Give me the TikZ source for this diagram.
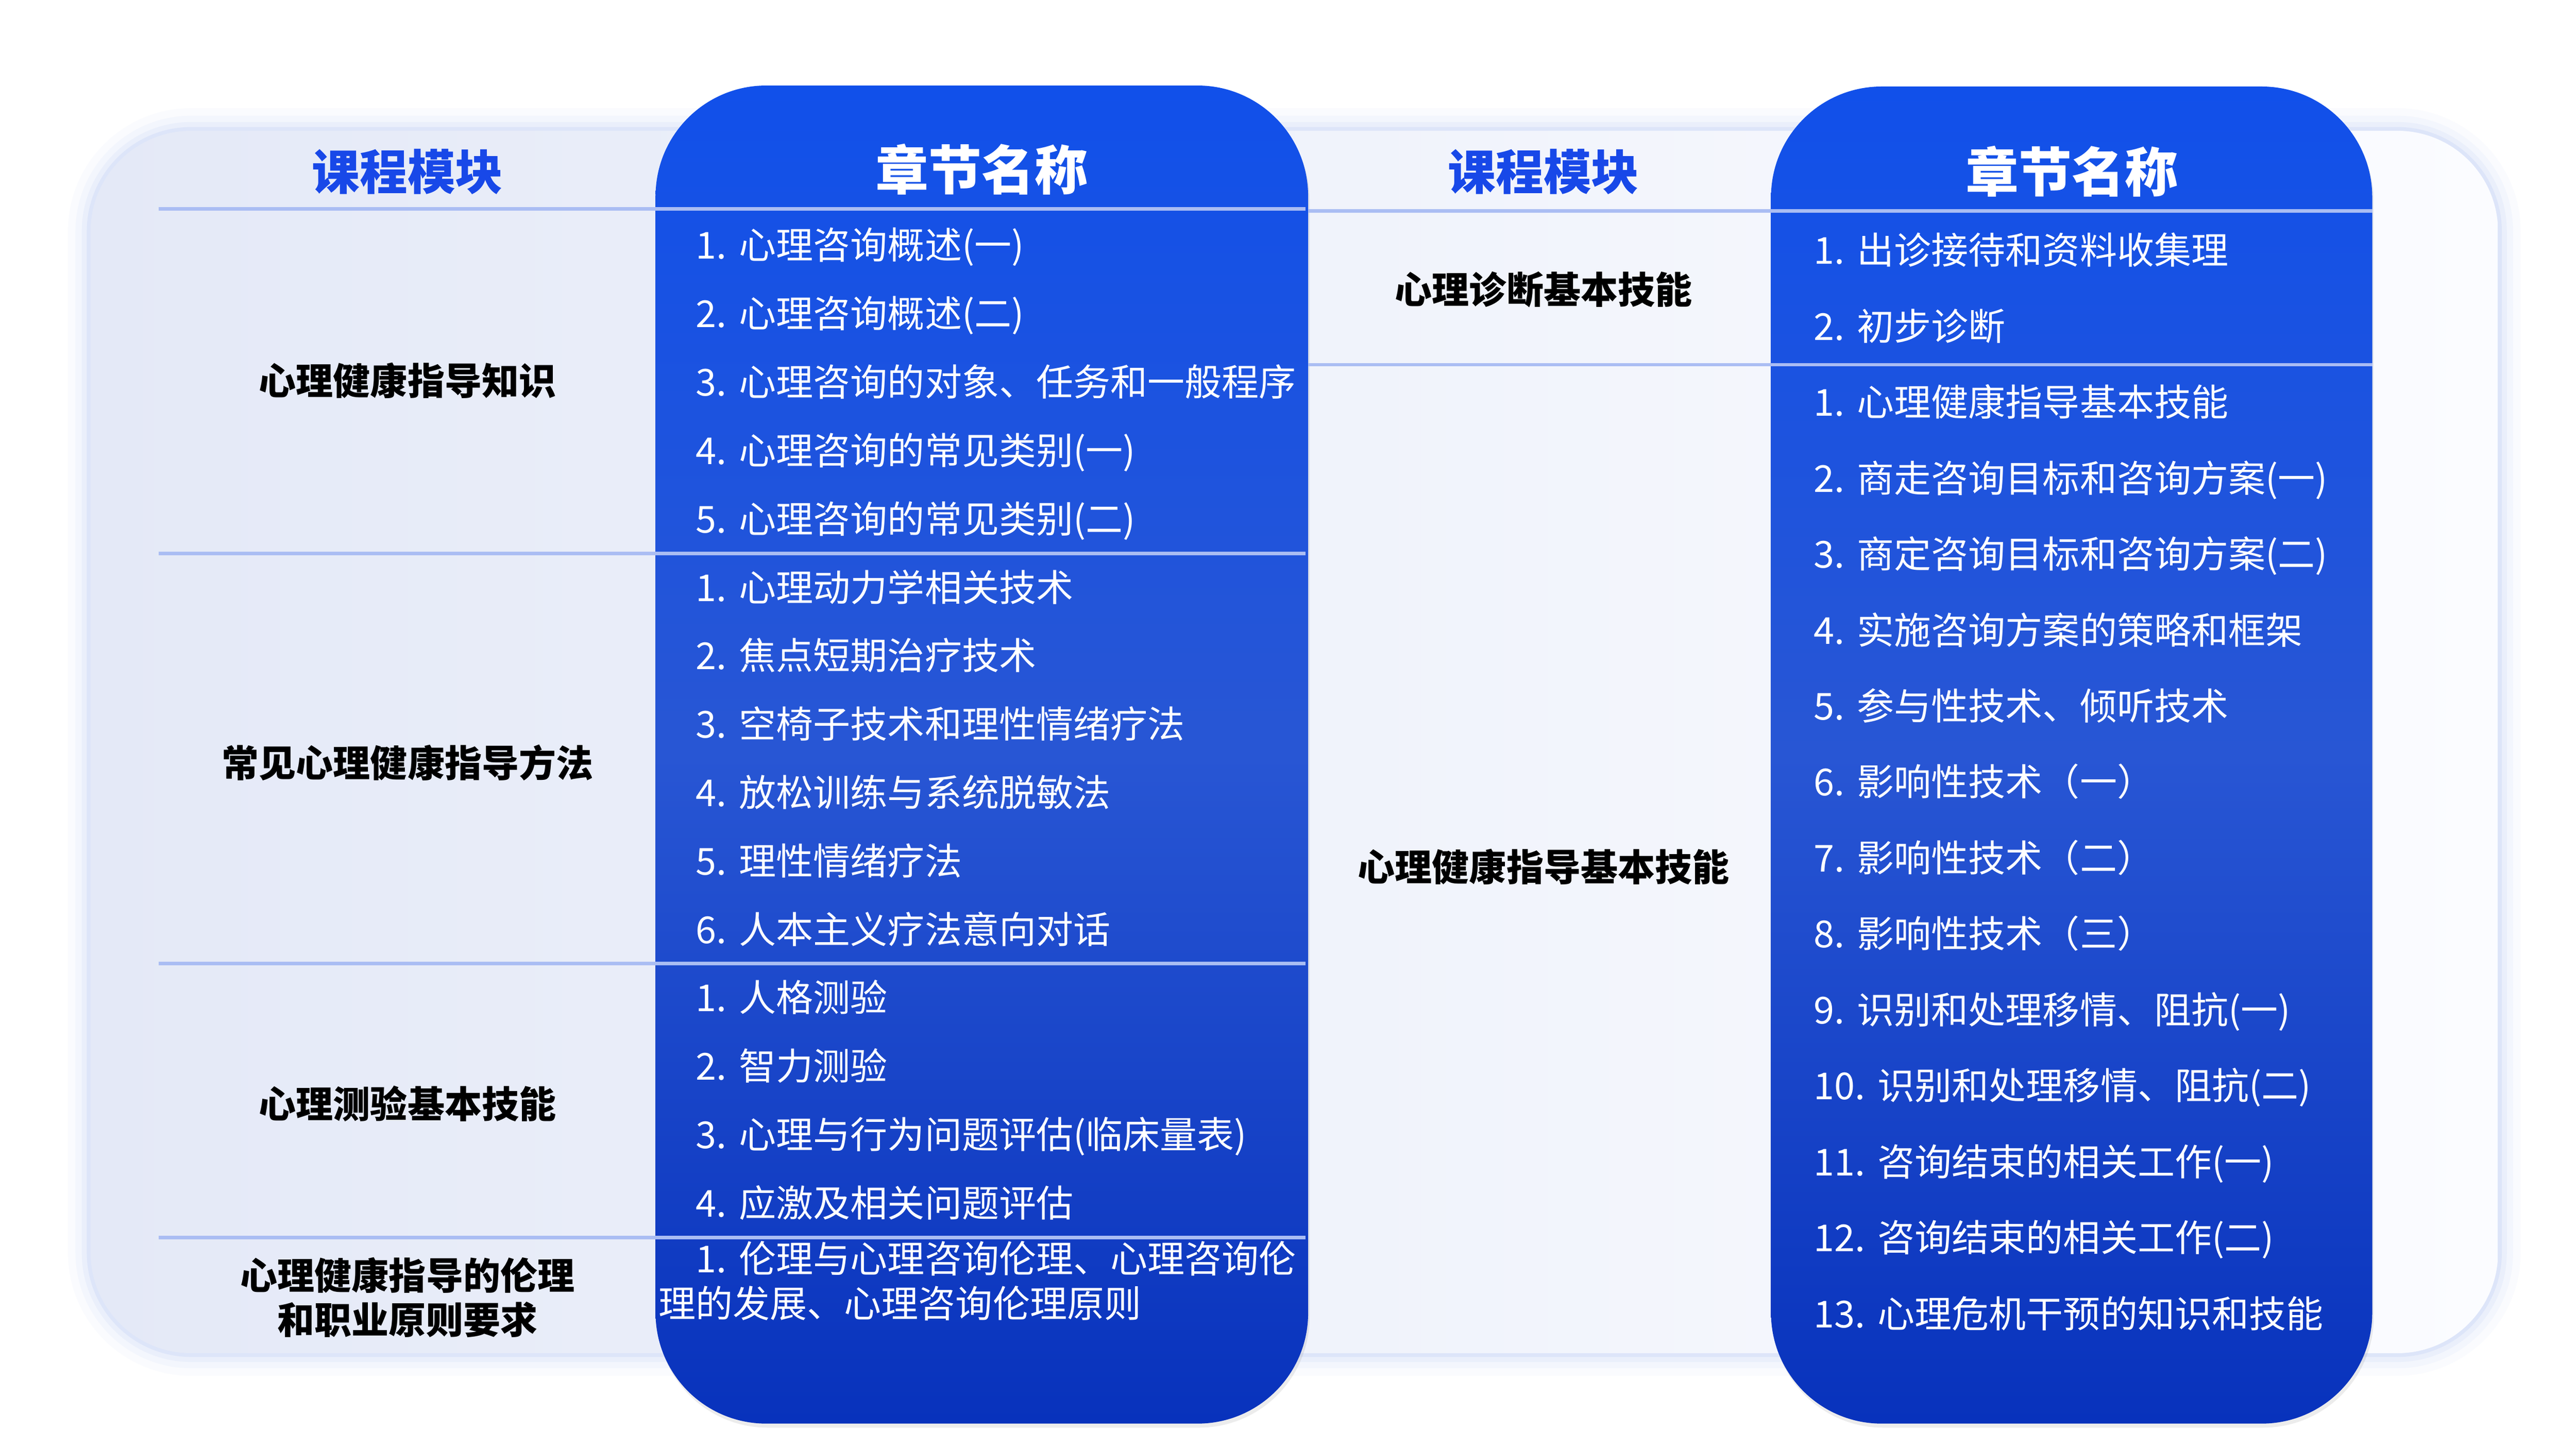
\documentclass[tikz,border=0pt]{standalone}
\usepackage{fontspec}
\setmainfont{Noto Sans CJK SC}
\usepackage{xcolor}
\usepackage{tikz}
\usetikzlibrary{positioning,shadows}

\definecolor{colTop}{HTML}{1150EA}
\definecolor{colMid}{HTML}{2856D4}
\definecolor{colBot}{HTML}{0832BC}
\definecolor{headblue}{HTML}{1848E8}
\definecolor{sepblue}{HTML}{AABDF3}
\definecolor{panelL}{HTML}{E4E9F7}
\definecolor{panelR}{HTML}{FBFCFF}
\definecolor{glowblue}{HTML}{C6D3F6}

\begin{document}
\begin{tikzpicture}[
  item/.style={inner sep=0pt, outer sep=0pt, text=white, align=left,
    font=\fontsize{21}{25}\selectfont, text height=0.66cm, text depth=0.1cm},
  litem/.style={item, text width=12.8cm, minimum height=1.36cm},
  ritem/.style={item, text width=11cm, minimum height=1.51cm},
  modname/.style={inner sep=0pt, text=black, align=center,
    font=\bfseries\fontsize{21}{25}\selectfont},
  headmod/.style={inner sep=0pt, text=headblue, font=\bfseries\fontsize{27}{30}\selectfont},
  headchap/.style={inner sep=0pt, text=white, font=\bfseries\fontsize{30}{32}\selectfont},
  sep/.style={draw=sepblue, line width=0.07cm},
  column/.style={rounded corners=2.2cm, top color=colTop, bottom color=colBot, middle color=colMid,
    drop shadow={opacity=0.15, shadow xshift=0.03cm, shadow yshift=-0.08cm}}
]
\useasboundingbox (0,0) rectangle (51.2,-28.8);
\fill[white] (0,0) rectangle (51.2,-28.8);

% panel
\foreach \w/\o in {0.9/0.08, 0.6/0.12, 0.35/0.2, 0.15/0.35}
  \draw[glowblue, line width=\w cm, opacity=\o, rounded corners=2cm] (1.8,-2.6) rectangle (49.65,-26.9);
\shade[left color=panelL, right color=panelR, rounded corners=2cm] (1.8,-2.6) rectangle (49.65,-26.9);

% columns
\path[column] (13.03,-1.7) rectangle (26.0,-28.3);
\path[column] (35.2,-1.72) rectangle (47.15,-28.3);

% lines
\draw[sep] (3.15,-4.15) -- (25.95,-4.15);
\draw[sep] (26.0,-4.19) -- (47.15,-4.19);
\draw[sep] (3.15,-11.0) -- (25.95,-11.0);
\draw[sep] (3.15,-19.15) -- (25.95,-19.15);
\draw[sep] (3.15,-24.6) -- (25.95,-24.6);
\draw[sep] (26.0,-7.25) -- (47.15,-7.25);

% headers
\node[headmod] (hmodL) at (8.1,-3.41) {课程模块};
\node[headchap] (hchapL) at (19.515,-3.37) {章节名称};
\node[headmod] (hmodR) at (30.68,-3.41) {课程模块};
\node[headchap] (hchapR) at (41.18,-3.41) {章节名称};

% modules
\node[modname] (m1) at (8.1,-7.57) {心理健康指导知识};
\node[modname] (m2) at (8.1,-15.16) {常见心理健康指导方法};
\node[modname] (m3) at (8.1,-21.94) {心理测验基本技能};
\node[modname, font=\bfseries\fontsize{21}{25}\selectfont] (m4) at (8.1,-25.79) {心理健康指导的伦理\\和职业原则要求};
\node[modname] (n1) at (30.68,-5.76) {心理诊断基本技能};
\node[modname] (n2) at (30.68,-17.23) {心理健康指导基本技能};

% chapters, left
\node[litem, anchor=west] (a1) at (13.83,-4.87) {1.~心理咨询概述(一)};
\node[litem, below=0pt of a1] (a2) {2.~心理咨询概述(二)};
\node[litem, below=0pt of a2] (a3) {3.~心理咨询的对象、任务和一般程序};
\node[litem, below=0pt of a3] (a4) {4.~心理咨询的常见类别(一)};
\node[litem, below=0pt of a4] (a5) {5.~心理咨询的常见类别(二)};
\node[litem, below=0pt of a5] (b1) {1.~心理动力学相关技术};
\node[litem, below=0pt of b1] (b2) {2.~焦点短期治疗技术};
\node[litem, below=0pt of b2] (b3) {3.~空椅子技术和理性情绪疗法};
\node[litem, below=0pt of b3] (b4) {4.~放松训练与系统脱敏法};
\node[litem, below=0pt of b4] (b5) {5.~理性情绪疗法};
\node[litem, below=0pt of b5] (b6) {6.~人本主义疗法意向对话};
\node[litem, below=0pt of b6] (c1) {1.~人格测验};
\node[litem, below=0pt of c1] (c2) {2.~智力测验};
\node[litem, below=0pt of c2] (c3) {3.~心理与行为问题评估(临床量表)};
\node[litem, below=0pt of c3] (c4) {4.~应激及相关问题评估};
\node[item, anchor=north west, text width=12.9cm, text height=0.66cm, text depth=0.1cm,
  font=\fontsize{21}{25.3}\selectfont] (d1) at (13.09,-24.64)
  {\hspace*{0.74cm}1.~伦理与心理咨询伦理、心理咨询伦\\理的发展、心理咨询伦理原则};

% chapters, right
\node[ritem, anchor=west] (e1) at (36.05,-4.97) {1.~出诊接待和资料收集理};
\node[ritem, below=0pt of e1] (e2) {2.~初步诊断};
\node[ritem, below=0pt of e2] (f1) {1.~心理健康指导基本技能};
\node[ritem, below=0pt of f1] (f2) {2.~商走咨询目标和咨询方案(一)};
\node[ritem, below=0pt of f2] (f3) {3.~商定咨询目标和咨询方案(二)};
\node[ritem, below=0pt of f3] (f4) {4.~实施咨询方案的策略和框架};
\node[ritem, below=0pt of f4] (f5) {5.~参与性技术、倾听技术};
\node[ritem, below=0pt of f5] (f6) {6.~影响性技术（一）};
\node[ritem, below=0pt of f6] (f7) {7.~影响性技术（二）};
\node[ritem, below=0pt of f7] (f8) {8.~影响性技术（三）};
\node[ritem, below=0pt of f8] (f9) {9.~识别和处理移情、阻抗(一)};
\node[ritem, below=0pt of f9] (f10) {10.~识别和处理移情、阻抗(二)};
\node[ritem, below=0pt of f10] (f11) {11.~咨询结束的相关工作(一)};
\node[ritem, below=0pt of f11] (f12) {12.~咨询结束的相关工作(二)};
\node[ritem, below=0pt of f12] (f13) {13.~心理危机干预的知识和技能};
\end{tikzpicture}
\end{document}
